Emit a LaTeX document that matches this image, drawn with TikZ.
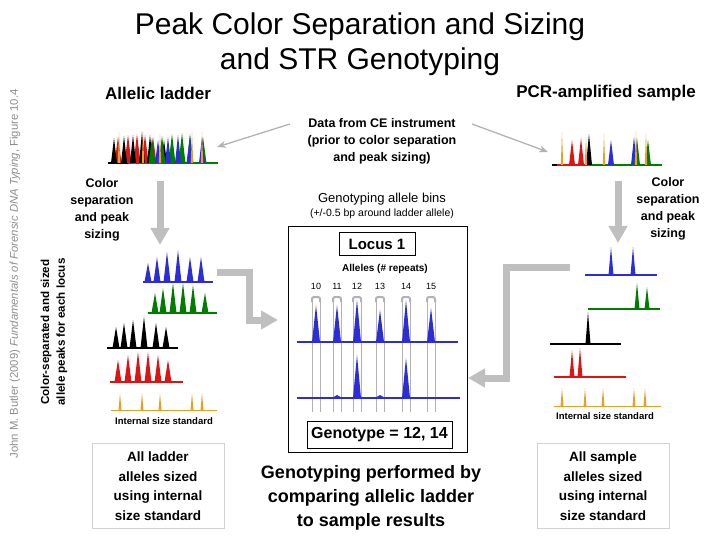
\documentclass[tikz,border=0pt]{standalone}
\usepackage{fontspec}
\setmainfont{Liberation Sans}
\usepackage{xcolor}
\usetikzlibrary{arrows.meta,calc,positioning}

\definecolor{dyeblue}{RGB}{45,45,215}
\definecolor{dyegreen}{RGB}{0,125,0}
\definecolor{dyered}{RGB}{220,20,20}
\definecolor{dyeorange}{RGB}{230,160,40}

\begin{document}
\begin{tikzpicture}[x=1pt,y=-1pt,>=Stealth,
  lbl/.style={font=\bfseries\fontsize{12.5}{17}\selectfont,align=center,inner sep=0pt},
  head/.style={font=\bfseries\fontsize{17}{20}\selectfont,inner sep=0pt},
  small/.style={font=\bfseries\fontsize{9.5}{11}\selectfont,inner sep=0pt},
  sumtext/.style={font=\bfseries\fontsize{13.5}{19.5}\selectfont,align=center,inner sep=0pt,
    draw=black!18,minimum width=132pt,minimum height=85pt},
  bigarrow/.style={draw=black!25,line width=7pt,-{Triangle[length=17pt,width=18pt]}},
  thinarrow/.style={draw=black!30,line width=1.3pt,-{Stealth[length=9pt,width=7pt]}},
  bin/.style={draw=black!30,line width=0.9pt},
  base/.style={line width=1.3pt}]
  \useasboundingbox (0,0) rectangle (720,540);

  % titles
  \node[font=\fontsize{30}{35}\selectfont,align=center] (title) at (360,44)
    {Peak Color Separation and Sizing\\and STR Genotyping};
  \node[head] (ladder) at (158,93) {Allelic ladder};
  \node[head] (sample) at (606,93) {PCR-amplified sample};
  \node[rotate=90,text=black!45,font=\fontsize{11.3}{13}\selectfont] (credit) at (15,274)
    {John M. Butler (2009) \textit{Fundamentals of Forensic DNA Typing}, Figure 10.4};
  \node[rotate=90,font=\bfseries\fontsize{11.6}{16}\selectfont,align=center] (sepsized) at (54,332)
    {Color-separated and sized\\allele peaks for each locus};

  % raw data (top)
  \node[lbl] (data) at (382,141) {Data from CE instrument\\(prior to color separation\\and peak sizing)};
  \draw[dyered,base] (108,163) -- (218,163);
  \draw[black,base] (108,163) -- (128,163);
  \draw[dyegreen,base] (165,163) -- (218,163);
  \foreach \x/\t in {118/137,128/135,137/134,145/135,153/137,162/140}
    \fill[dyered] (\x-3.5,163) -- (\x,\t) -- (\x+3.5,163) -- cycle;
  \foreach \x/\t in {114/138,124/136,133/135,142/132,150/135,164/140}
    \fill[black] (\x-3,163) -- (\x,\t) -- (\x+3,163) -- cycle;
  \foreach \x/\t in {152/138,162/136,172/134,182/133,190/134,203/137}
    \fill[dyegreen] (\x-3.5,163) -- (\x,\t) -- (\x+3.5,163) -- cycle;
  \foreach \x/\t in {158/140,168/137,178/135,190/136,202/137}
    \fill[dyeblue] (\x-3,163) -- (\x,\t) -- (\x+3,163) -- cycle;
  \foreach \x/\t in {119/132,143/131,160/134,192/131,202/132}
    \fill[dyeorange] (\x-1.2,163) -- (\x,\t) -- (\x+1.2,163) -- cycle;

  \draw[dyered,base] (552,165) -- (588,165);
  \draw[black,base] (552,165) -- (557,165);
  \draw[dyegreen,base] (588,165) -- (662,165);
  \foreach \x/\t in {572/140,581/138}
    \fill[dyered] (\x-3,165) -- (\x,\t) -- (\x+3,165) -- cycle;
  \fill[black] (586,165) -- (589,134) -- (592,165) -- cycle;
  \foreach \x/\t in {611/140,634/137}
    \fill[dyeblue] (\x-3,165) -- (\x,\t) -- (\x+3,165) -- cycle;
  \foreach \x/\t in {637/138,648/140}
    \fill[dyegreen] (\x-3,165) -- (\x,\t) -- (\x+3,165) -- cycle;
  \foreach \x/\t in {562/132,586/137,604/134,636/131,646/133}
    \fill[dyeorange] (\x-1.2,165) -- (\x,\t) -- (\x+1.2,165) -- cycle;

  \coordinate (ceL) at (290,124);
  \coordinate (ceR) at (472,124);
  \coordinate (rawL) at (217,147);
  \coordinate (rawR) at (548,152);
  \draw[thinarrow] (ceL) -- (rawL);
  \draw[thinarrow] (ceR) -- (rawR);

  % color separation
  \node[lbl] (sepL) at (102,210) {Color\\separation\\and peak\\sizing};
  \node[lbl] (sepR) at (668,209) {Color\\separation\\and peak\\sizing};
  \coordinate (downL) at (160,181);
  \coordinate (downR) at (618,181);
  \draw[bigarrow] (downL) -- ++(0,64);
  \draw[bigarrow] (downR) -- ++(0,62);

  % ladder, separated by dye
  \draw[dyeblue,base] (143,282) -- (213,282);
  \foreach \x/\t in {148/263,157/257,167/252,178/250,190/257,201/257}
    \fill[dyeblue] (\x-3.5,282) -- (\x,\t) -- (\x+3.5,282) -- cycle;
  \draw[dyegreen,base] (148,313) -- (217,313);
  \foreach \x/\t in {155/293,163/288,173/283,183/283,193/285,205/293}
    \fill[dyegreen] (\x-3.5,313) -- (\x,\t) -- (\x+3.5,313) -- cycle;
  \draw[black,base] (107,348) -- (178,348);
  \foreach \x/\t in {116/327,124/323,133/320,144/317,156/323,166/327}
    \fill[black] (\x-3.5,348) -- (\x,\t) -- (\x+3.5,348) -- cycle;
  \draw[dyered,base] (110,382) -- (183,382);
  \foreach \x/\t in {118/360,128/355,138/352,148/352,158/355,168/360}
    \fill[dyered] (\x-3.5,382) -- (\x,\t) -- (\x+3.5,382) -- cycle;
  \draw[dyeorange,line width=0.9pt] (111,410) -- (217,410);
  \foreach \x in {120,142,160,192,202}
    \fill[dyeorange] (\x-1.5,410) -- (\x,393) -- (\x+1.5,410) -- cycle;
  \node[small] (issL) at (164,421) {Internal size standard};

  % sample, separated by dye
  \draw[dyeblue,base] (585,275) -- (657,275);
  \foreach \x in {611,633}
    \fill[dyeblue] (\x-2.5,275) -- (\x,247) -- (\x+2.5,275) -- cycle;
  \draw[dyegreen,base] (588,309) -- (660,309);
  \foreach \x/\t in {637/283,647/287}
    \fill[dyegreen] (\x-2.5,309) -- (\x,\t) -- (\x+2.5,309) -- cycle;
  \draw[black,base] (550,344) -- (621,344);
  \fill[black] (585.5,344) -- (588,312) -- (590.5,344) -- cycle;
  \draw[dyered,base] (554,377) -- (626,377);
  \foreach \x/\t in {572/350,580/348}
    \fill[dyered] (\x-2.5,377) -- (\x,\t) -- (\x+2.5,377) -- cycle;
  \draw[dyeorange,line width=0.9pt] (554,406) -- (661,406);
  \foreach \x in {562,585,603,634,645}
    \fill[dyeorange] (\x-1.5,406) -- (\x,388) -- (\x+1.5,406) -- cycle;
  \node[small] (issR) at (605,416) {Internal size standard};

  % genotyping bins
  \node[font=\fontsize{13}{15}\selectfont,inner sep=0pt] (binsT) at (382,199) {Genotyping allele bins};
  \node[font=\fontsize{10.5}{12}\selectfont,inner sep=0pt] (binsS) at (382,214)
    {(+/-0.5 bp around ladder allele)};
  \node[draw,thin,minimum width=179pt,minimum height=226pt,inner sep=0pt] (bins) at (377.5,339) {};
  \node[draw,thin,font=\bfseries\fontsize{15}{17}\selectfont,minimum width=76pt,minimum height=23pt,
    inner sep=0pt] (locus) at (377,244) {Locus 1};
  \node[font=\bfseries\fontsize{10}{12}\selectfont,inner sep=0pt] (alleles) at (385,269) {Alleles (\# repeats)};
  \foreach \c/\n in {316/10,337/11,357/12,380/13,406/14,431/15} {
    \node[font=\fontsize{9}{10}\selectfont,inner sep=0pt] (al\n) at (\c,286) {\n};
    \draw[bin] (\c-4,298) -- (\c-4,412);
    \draw[bin] (\c+4,298) -- (\c+4,412);
    \draw[bin,line width=2pt,rounded corners=2pt] (\c-4,302) -- (\c-4,297) -- (\c+4,297) -- (\c+4,302);
  }
  \draw[dyeblue,base] (297,342) -- (458,342);
  \foreach \c/\t in {316/305,337/305,357/300,380/310,406/300,431/308}
    \fill[dyeblue] (\c-4,342) -- (\c,\t) -- (\c+4,342) -- cycle;
  \draw[dyeblue,base] (297,398) -- (460,398);
  \foreach \c/\t in {357/355,406/358}
    \fill[dyeblue] (\c-4,398) -- (\c,\t) -- (\c+4,398) -- cycle;
  \foreach \c in {337,380}
    \fill[dyeblue] (\c-5,398) -- (\c,395) -- (\c+5,398) -- cycle;
  \coordinate (inL) at (278,320);
  \coordinate (inR) at (468,378);
  \draw[bigarrow] (217,272) -- (249,272) -- (249,320) -- (inL);
  \draw[bigarrow] (570,267) -- (506,267) -- (506,378) -- (inR);
  \node[draw,thin,font=\bfseries\fontsize{16}{18}\selectfont,minimum width=145pt,minimum height=27pt,
    inner sep=0pt] (geno) at (379.5,434.5) {Genotype = 12, 14};

  % summaries
  \node[sumtext] (sumL) at (158,486) {All ladder\\alleles sized\\using internal\\size standard};
  \node[sumtext] (sumR) at (603,486) {All sample\\alleles sized\\using internal\\size standard};
  \node[font=\bfseries\fontsize{18}{24}\selectfont,align=center,inner sep=0pt] (result) at (371,498)
    {Genotyping performed by\\comparing allelic ladder\\to sample results};
\end{tikzpicture}
\end{document}
